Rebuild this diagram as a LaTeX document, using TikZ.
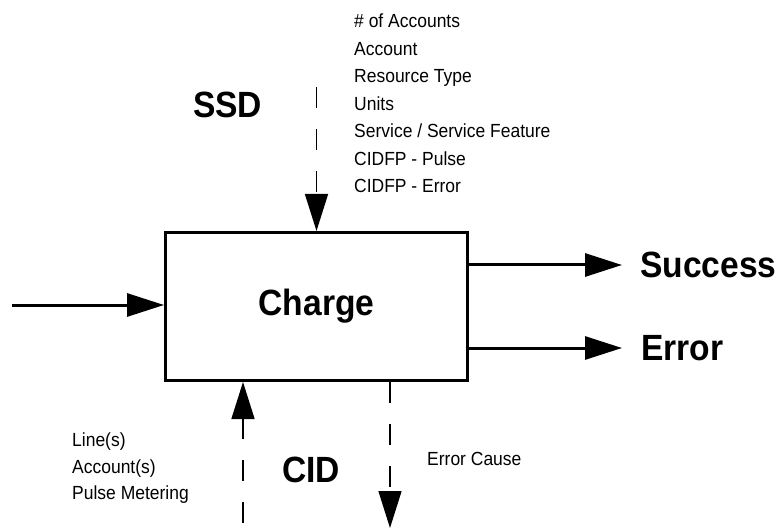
\documentclass[tikz,border=0pt]{standalone}
\usepackage{fontspec}
\setmainfont[FakeStretch=0.92]{Liberation Sans}
\usetikzlibrary{arrows.meta}
\tikzset{
  flow/.style={line width=3pt, -{Triangle[length=37pt,width=23pt]}},
  dataflow/.style={line width=1.5pt, dash pattern=on 21pt off 21pt, -{Triangle[length=37pt,width=23pt]}},
  biglabel/.style={inner sep=0pt, anchor=base west, font=\fontsize{36.5}{40}\selectfont\bfseries},
  smalllabel/.style={inner sep=0pt, anchor=base west, font=\fontsize{19}{22}\selectfont},
  process/.style={draw, line width=3pt, minimum width=302pt, minimum height=148pt, inner sep=0pt,
    font=\fontsize{36.5}{40}\selectfont\bfseries}
}
\begin{document}
\begin{tikzpicture}[x=1pt,y=-1pt]
\useasboundingbox (0,0) rectangle (784,529);

% the process box
\node[process] (charge) at (316.5,306.5) {\raisebox{-0.3pt}{Charge}};

% input and outputs
\coordinate (in) at (12,305);
\coordinate (succ) at (622,265);
\coordinate (err) at (622,348);
\draw[flow] (in) -- (charge.west |- in);
\draw[flow] (charge.east |- succ) -- (succ);
\draw[flow] (charge.east |- err) -- (err);

% data flows
\coordinate (ssdtop) at (316.5,87);
\coordinate (cidbot) at (243,523);
\coordinate (causebot) at (390,528);
\draw[dataflow] (ssdtop) -- (charge.north -| ssdtop);
\draw[dataflow] (cidbot) -- (charge.south -| cidbot);
\draw[dataflow] (charge.south -| causebot) -- (causebot);

% labels
\node[biglabel] (ssd) at (193,118) {SSD};
\node[biglabel] (cid) at (282,482) {CID};
\node[biglabel] (success) at (640,278) {Success};
\node[biglabel] (error) at (641,360) {Error};

\foreach \t [count=\i from 0] in {\# of Accounts, Account, Resource Type, Units,
    Service / Service Feature, CIDFP - Pulse, CIDFP - Error}
  \node[smalllabel] (ssditem\i) at (354,28+27.45*\i) {\t};

\foreach \t [count=\i from 0] in {Line(s), Account(s), Pulse Metering}
  \node[smalllabel] (ciditem\i) at (72,446.7+26.6*\i) {\t};

\node[smalllabel] (cause) at (427,465) {Error Cause};
\end{tikzpicture}
\end{document}
